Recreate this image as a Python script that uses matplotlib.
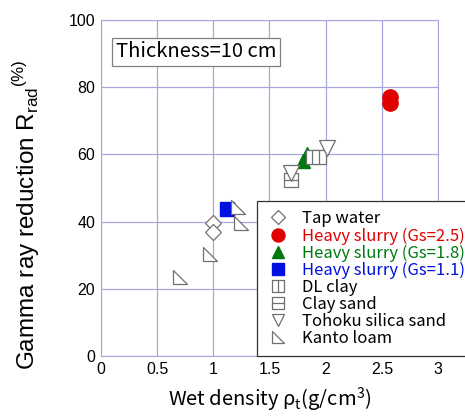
import matplotlib
matplotlib.use("Agg")
import matplotlib.pyplot as plt
from matplotlib.path import Path

# ---- data ----
tap_x = [1.00, 1.00]
tap_y = [39.5, 37.0]
gs25_x = [2.57, 2.57]
gs25_y = [77.2, 75.3]
gs18_x = [1.80, 1.83]
gs18_y = [58.0, 60.0]
gs11_x = [1.12]
gs11_y = [43.8]
dl_x = [1.89, 1.94]
dl_y = [59.2, 59.2]
cs_x = [1.69]
cs_y = [52.3]
toh_x = [1.69, 2.01]
toh_y = [54.5, 62.0]
kanto_x = [0.70, 0.97, 1.25, 1.22]
kanto_y = [23.5, 30.5, 39.6, 44.5]

GRID = "#a8a8e0"
TXT = ["Noto Sans CJK JP", "DejaVu Sans"]

# custom open markers
sq_v = Path([(-1, -1), (1, -1), (1, 1), (-1, 1), (-1, -1), (0, -1), (0, 1)],
            [Path.MOVETO, Path.LINETO, Path.LINETO, Path.LINETO, Path.CLOSEPOLY,
             Path.MOVETO, Path.LINETO])
sq_h = Path([(-1, -1), (1, -1), (1, 1), (-1, 1), (-1, -1), (-1, 0), (1, 0)],
            [Path.MOVETO, Path.LINETO, Path.LINETO, Path.LINETO, Path.CLOSEPOLY,
             Path.MOVETO, Path.LINETO])
rtri = Path([(-1, 1), (-1, -1), (1, -1), (-1, 1)],
            [Path.MOVETO, Path.LINETO, Path.LINETO, Path.CLOSEPOLY])

fig = plt.figure(figsize=(4.65, 4.17), dpi=100)
ax = fig.add_axes([0.217, 0.146, 0.725, 0.806])

open_kw = dict(linestyle="none", markerfacecolor="white", markeredgecolor="#707070",
               markeredgewidth=0.9)
ax.plot(tap_x, tap_y, marker="D", markersize=8, label="Tap water", **open_kw)
ax.plot(gs25_x, gs25_y, "o", color="#e00000", markersize=11, label="Heavy slurry (Gs=2.5)")
ax.plot(gs18_x, gs18_y, "^", color="#007a10", markersize=10, label="Heavy slurry (Gs=1.8)")
ax.plot(gs11_x, gs11_y, "s", color="#0010e0", markersize=10, label="Heavy slurry (Gs=1.1)")
ax.plot(dl_x, dl_y, marker=sq_v, markersize=10, label="DL clay", **open_kw)
ax.plot(cs_x, cs_y, marker=sq_h, markersize=10, label="Clay sand", **open_kw)
ax.plot(toh_x, toh_y, marker="v", markersize=11, label="Tohoku silica sand", **open_kw)
ax.plot(kanto_x, kanto_y, marker=rtri, markersize=10, label="Kanto loam", **open_kw)

ax.set_xlim(0, 3)
ax.set_ylim(0, 100)
ax.set_xticks([0, 0.5, 1, 1.5, 2, 2.5, 3])
ax.set_xticklabels(["0", "0.5", "1", "1.5", "2", "2.5", "3"])
ax.set_yticks([0, 20, 40, 60, 80, 100])
ax.grid(True, color=GRID, linewidth=0.9)
ax.set_axisbelow(True)
for s in ax.spines.values():
    s.set_color(GRID)
ax.tick_params(length=0, labelsize=11.5, pad=4)
for lab in ax.get_xticklabels() + ax.get_yticklabels():
    lab.set_family("Liberation Sans")

ax.set_xlabel(r"Wet density ρ$_\mathregular{t}$(g/cm$^\mathregular{3}$)",
              fontsize=14.5, family=TXT, labelpad=6)
ax.set_ylabel(r"Gamma ray reduction R$_\mathregular{rad}$$^\mathregular{(\%)}$",
              fontsize=17.5, family="Liberation Sans")
ax.yaxis.set_label_coords(-0.175, 0.42)

ax.text(0.045, 0.905, "Thickness=10 cm", transform=ax.transAxes, fontsize=14.5,
        family=TXT, va="center", ha="left",
        bbox=dict(boxstyle="square,pad=0.18", facecolor="white",
                  edgecolor="#808080", linewidth=0.9))

leg = ax.legend(loc="lower left", bbox_to_anchor=(0.462, 0.0),
                prop={"family": TXT, "size": 12}, frameon=True, fancybox=False,
                edgecolor="#303030", framealpha=1, borderpad=0.55,
                labelspacing=0.0, handletextpad=0.7, handlelength=1.5,
                markerscale=0.85, borderaxespad=0)
leg.get_frame().set_linewidth(0.9)
text_colors = ["black", "#e00000", "#007a10", "#0010e0",
               "black", "black", "black", "black"]
for t, c in zip(leg.get_texts(), text_colors):
    t.set_color(c)
leg.set_clip_on(False)

fig.savefig("out.png", dpi=100)
